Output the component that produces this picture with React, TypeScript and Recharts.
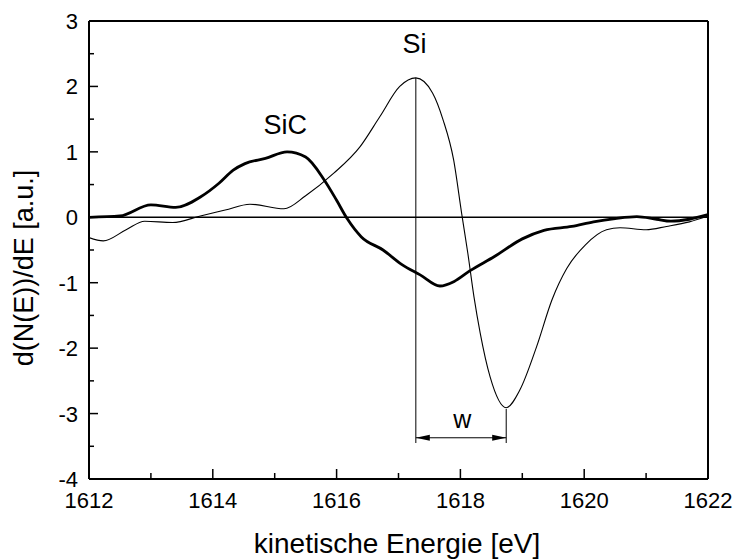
import React from 'react';
import { LineChart, Line, XAxis, YAxis, ReferenceLine, ReferenceDot } from 'recharts';

const FONT = '"Liberation Sans", Arial, Helvetica, sans-serif';

// SiC spectrum (thick line)
const sicEnergy = [
  1612.0, 1612.5, 1613.0, 1613.4, 1613.8, 1614.1, 1614.33, 1614.52, 1614.85, 1615.2,
  1615.5, 1615.8, 1616.0, 1616.17, 1616.4, 1616.75, 1617.05, 1617.35, 1617.67, 1617.9,
  1618.15, 1618.55, 1619.0, 1619.35, 1619.8, 1620.15, 1620.5, 1620.85, 1621.17, 1621.4,
  1621.7, 1622.0,
];
const sicSignal = [
  0.0, 0.02, 0.19, 0.15, 0.31, 0.52, 0.72, 0.82, 0.9, 1.0,
  0.92, 0.57, 0.26, -0.02, -0.3, -0.5, -0.72, -0.88, -1.05, -0.98,
  -0.82, -0.6, -0.33, -0.2, -0.14, -0.07, -0.02, 0.01, -0.03, -0.06,
  -0.03, 0.04,
];

// Si spectrum (thin line)
const siEnergy = [
  1612.0, 1612.23, 1612.6, 1612.9, 1613.35, 1613.8, 1614.2, 1614.6, 1615.15, 1615.5,
  1615.95, 1616.38, 1616.7, 1617.02, 1617.28, 1617.55, 1617.72, 1617.89, 1618.02,
  1618.12, 1618.22, 1618.32, 1618.48, 1618.74, 1618.96, 1619.23, 1619.48, 1619.72, 1620.02,
  1620.36, 1620.58, 1621.0, 1621.33, 1621.7, 1622.0,
];
const siSignal = [
  -0.31, -0.36, -0.19, -0.06, -0.08, 0.02, 0.11, 0.2, 0.13, 0.33,
  0.67, 1.08, 1.54, 2.0, 2.13, 1.9, 1.49, 0.88, 0.06,
  -0.55, -1.22, -1.77, -2.44, -2.91, -2.64, -1.98, -1.26, -0.78, -0.42,
  -0.19, -0.16, -0.19, -0.14, -0.07, 0.02,
];

const xTicks = [1612, 1613, 1614, 1615, 1616, 1617, 1618, 1619, 1620, 1621, 1622];
const yTicks = [-4, -3.5, -3, -2.5, -2, -1.5, -1, -0.5, 0, 0.5, 1, 1.5, 2, 2.5, 3];

// annotation: Si peak, Si minimum and the width marker w
const siPeak = { x: 1617.28, y: 2.13 };
const siDip = { x: 1618.74, y: -2.93 };
const markerBase = -3.45;
const arrowLevel = -3.37;

const sicData = sicEnergy.map((e, i) => ({ x: e, y: sicSignal[i] }));
const siData = siEnergy.map((e, i) => ({ x: e, y: siSignal[i] }));

const XTick = (props: any) => {
  const { x, y, payload } = props;
  const major = payload.value % 2 === 0;
  return (
    <g>
      <line x1={x} y1={y} x2={x} y2={y - (major ? 10 : 6)} stroke="#000" strokeWidth={1.5} />
      {major && (
        <text x={x} y={y + 29} textAnchor="middle" fontSize={22} fontFamily={FONT} fill="#000">
          {payload.value}
        </text>
      )}
    </g>
  );
};

const YTick = (props: any) => {
  const { x, y, payload } = props;
  const major = Number.isInteger(payload.value);
  return (
    <g>
      <line x1={x} y1={y} x2={x + (major ? 9 : 5)} y2={y} stroke="#000" strokeWidth={1.5} />
      {major && (
        <text x={x - 11} y={y + 8} textAnchor="end" fontSize={22} fontFamily={FONT} fill="#000">
          {payload.value}
        </text>
      )}
    </g>
  );
};

const textShape = (label: string, size: number) => (p: any) => (
  <text x={p.cx} y={p.cy} textAnchor="middle" fontSize={size} fontFamily={FONT} fill="#000">
    {label}
  </text>
);

const arrowHead = (dir: number) => (p: any) => (
  <path
    d={`M${p.cx},${p.cy} L${p.cx + dir * 14},${p.cy - 3} L${p.cx + dir * 14},${p.cy + 3} Z`}
    fill="#000"
  />
);

export default function App() {
  return (
    <div style={{ position: 'absolute', left: 0, top: 0, width: 736, height: 560, background: '#fff' }}>
      <LineChart width={736} height={560} margin={{ top: 21, right: 28, left: 29, bottom: 31 }}>
        <XAxis
          type="number"
          dataKey="x"
          domain={[1612, 1622]}
          ticks={xTicks}
          interval={0}
          height={50}
          tickSize={0}
          tickMargin={0}
          tickLine={false}
          tick={XTick}
          axisLine={{ stroke: '#000', strokeWidth: 2 }}
          allowDataOverflow
        />
        <YAxis
          type="number"
          dataKey="y"
          domain={[-4, 3]}
          ticks={yTicks}
          interval={0}
          width={60}
          tickSize={0}
          tickMargin={0}
          tickLine={false}
          tick={YTick}
          axisLine={{ stroke: '#000', strokeWidth: 2 }}
          allowDataOverflow
        />
        <ReferenceLine y={3} stroke="#000" strokeWidth={2} />
        <ReferenceLine x={1622} stroke="#000" strokeWidth={2} />
        <ReferenceLine y={0} stroke="#000" strokeWidth={1.5} />
        <ReferenceLine
          segment={[{ x: siPeak.x, y: siPeak.y }, { x: siPeak.x, y: markerBase }]}
          stroke="#000"
          strokeWidth={1}
        />
        <ReferenceLine
          segment={[{ x: siDip.x, y: siDip.y }, { x: siDip.x, y: markerBase }]}
          stroke="#000"
          strokeWidth={1}
        />
        <ReferenceLine
          segment={[{ x: siPeak.x, y: arrowLevel }, { x: siDip.x, y: arrowLevel }]}
          stroke="#000"
          strokeWidth={1}
        />
        <Line
          data={siData}
          dataKey="y"
          type="monotone"
          stroke="#000"
          strokeWidth={1.1}
          dot={false}
          activeDot={false}
          isAnimationActive={false}
        />
        <Line
          data={sicData}
          dataKey="y"
          type="monotone"
          stroke="#000"
          strokeWidth={2.8}
          dot={false}
          activeDot={false}
          isAnimationActive={false}
        />
        <ReferenceDot x={siPeak.x} y={arrowLevel} shape={arrowHead(1)} />
        <ReferenceDot x={siDip.x} y={arrowLevel} shape={arrowHead(-1)} />
        <ReferenceDot x={1617.26} y={2.51} shape={textShape('Si', 27)} />
        <ReferenceDot x={1615.17} y={1.28} shape={textShape('SiC', 27)} />
        <ReferenceDot x={1618.03} y={-3.22} shape={textShape('w', 25)} />
        <text x={397} y={553} textAnchor="middle" fontSize={28} fontFamily={FONT} fill="#000">
          kinetische Energie [eV]
        </text>
        <text
          x={33}
          y={268}
          transform="rotate(-90, 33, 268)"
          textAnchor="middle"
          fontSize={27}
          fontFamily={FONT}
          fill="#000"
        >
          d(N(E))/dE [a.u.]
        </text>
      </LineChart>
    </div>
  );
}
